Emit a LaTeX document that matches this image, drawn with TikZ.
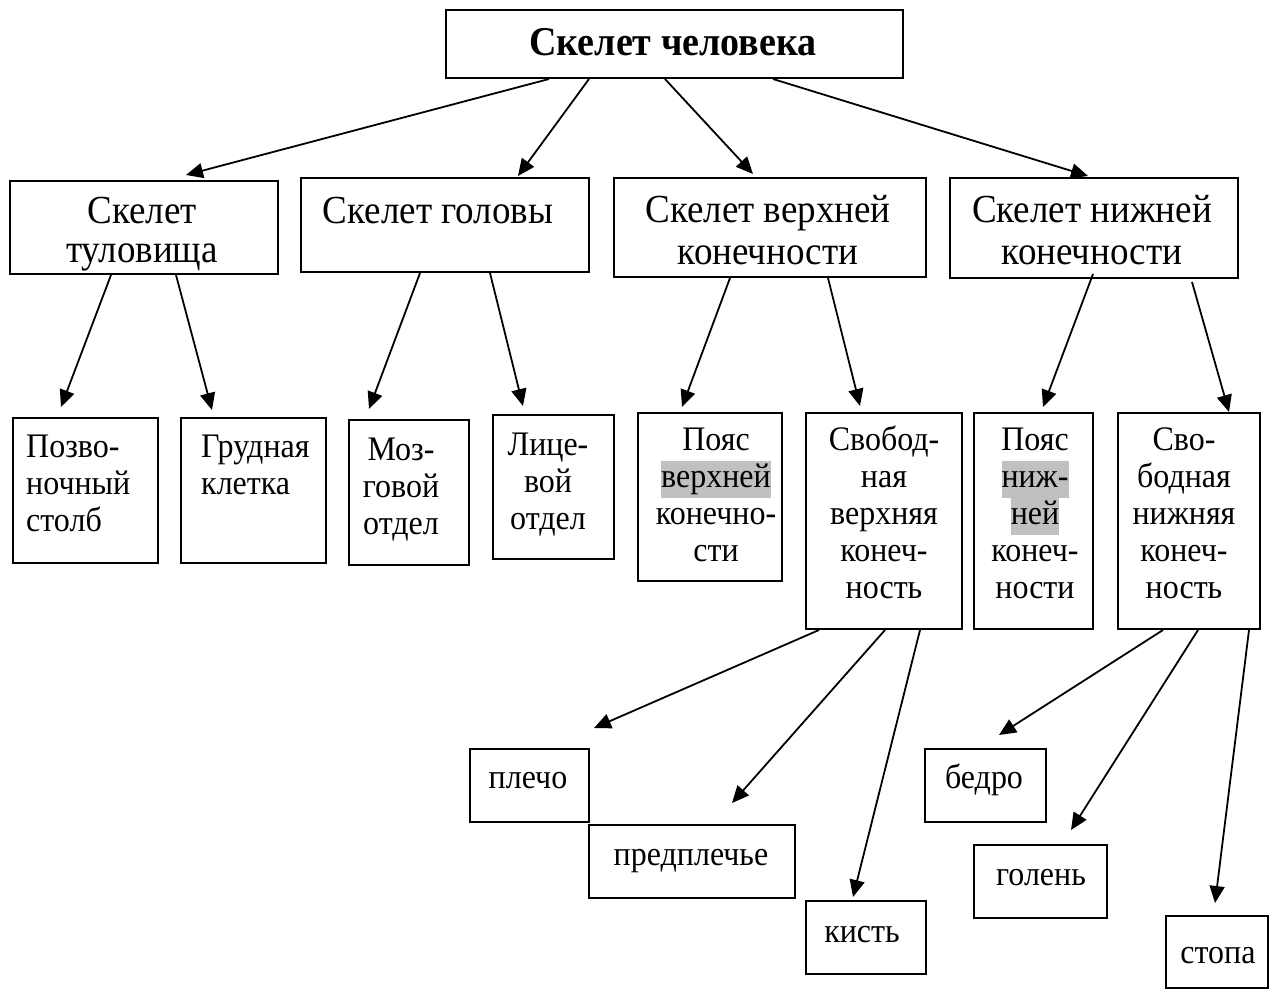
\documentclass[tikz,border=0pt]{standalone}
\usepackage{fontspec}
\setmainfont{Liberation Serif}[FakeStretch=0.93]
\usetikzlibrary{arrows.meta,calc}
\definecolor{hlgray}{RGB}{192,192,192}
\newcommand\mlc[1]{\begin{tabular}[t]{@{}c@{}}#1\end{tabular}}
\newcommand\mll[1]{\begin{tabular}[t]{@{}l@{}}#1\end{tabular}}
\newcommand\hlw[1]{{\setlength{\fboxsep}{0pt}\colorbox{hlgray}{\strut #1}}}
\newcommand\fTitle{\fontsize{40.9}{44}\selectfont\bfseries}
\newcommand\fTwo{\fontsize{39.8}{42}\selectfont}
\newcommand\fThree{\fontsize{34.4}{37}\selectfont}
\tikzset{
  box/.style={draw, line width=2pt, inner sep=0pt, anchor=north west},
  arr/.style={line width=1.8pt, -{Triangle[length=17pt,width=15pt]}},
  txt/.style={inner sep=0pt, anchor=base},
  txtl/.style={inner sep=0pt, anchor=base west}
}
\begin{document}
\begin{tikzpicture}[x=1pt,y=-1pt]
\fill[white] (0,0) rectangle (1271,989);
\useasboundingbox (0,0) rectangle (1271,989);
% boxes
\node[box, minimum width=457pt, minimum height=68pt] (T) at (445,9) {};
\node[box, minimum width=268pt, minimum height=93pt] (A) at (9,180) {};
\node[box, minimum width=288pt, minimum height=94pt] (B) at (300,177) {};
\node[box, minimum width=312pt, minimum height=99pt] (C) at (613,177) {};
\node[box, minimum width=288pt, minimum height=100pt] (D) at (949,177) {};
\node[box, minimum width=145pt, minimum height=145pt] (P1) at (12,417) {};
\node[box, minimum width=145pt, minimum height=145pt] (P2) at (180,417) {};
\node[box, minimum width=120pt, minimum height=145pt] (P3) at (348,419) {};
\node[box, minimum width=121pt, minimum height=144pt] (P4) at (492,414) {};
\node[box, minimum width=144pt, minimum height=168pt] (P5) at (637,412) {};
\node[box, minimum width=156pt, minimum height=216pt] (P6) at (805,412) {};
\node[box, minimum width=119pt, minimum height=216pt] (P7) at (973,412) {};
\node[box, minimum width=142pt, minimum height=216pt] (P8) at (1117,412) {};
\node[box, minimum width=119pt, minimum height=73pt] (Q1) at (469,748) {};
\node[box, minimum width=206pt, minimum height=73pt] (Q2) at (588,824) {};
\node[box, minimum width=120pt, minimum height=73pt] (Q3) at (805,900) {};
\node[box, minimum width=121pt, minimum height=73pt] (Q4) at (924,748) {};
\node[box, minimum width=133pt, minimum height=73pt] (Q5) at (973,844) {};
\node[box, minimum width=102pt, minimum height=72pt] (Q6) at (1165,915) {};
% texts
\node[txt] (tT) at (673,55) {\fTitle Скелет человека};
\node[txt] (tA) at (142,223) {\fontsize{39.8}{39}\selectfont\mlc{Скелет\\туловища}};
\node[txt] (tB) at (438,223) {\fTwo Скелет головы};
\node[txt] (tC) at (768,222) {\fTwo\mlc{Скелет верхней\\конечности}};
\node[txt] (tD) at (1092,222) {\fTwo\mlc{Скелет нижней\\конечности}};
\node[txtl] (tP1) at (26,457) {\fThree\mll{Позво-\\ночный\\столб}};
\node[txtl] (tP2) at (201,457) {\fThree\mll{Грудная\\клетка}};
\node[txt] (tP3) at (401,460) {\fThree\mlc{Моз-\\говой\\отдел}};
\node[txt] (tP4) at (548,455) {\fThree\mlc{Лице-\\вой\\отдел}};
\node[txt] (tP5) at (716,450) {\fThree\mlc{Пояс\\\hlw{верхней}\\конечно-\\сти}};
\node[txt] (tP6) at (884,450) {\fThree\mlc{Свобод-\\ная\\верхняя\\конеч-\\ность}};
\node[txt] (tP7) at (1035,450) {\fThree\mlc{Пояс\\\hlw{ниж-}\\\hlw{ней}\\конеч-\\ности}};
\node[txt] (tP8) at (1184,450) {\fThree\mlc{Сво-\\бодная\\нижняя\\конеч-\\ность}};
\node[txt] (tQ1) at (528,788) {\fThree плечо};
\node[txt] (tQ2) at (691,865) {\fThree предплечье};
\node[txt] (tQ3) at (862,942) {\fThree кисть};
\node[txt] (tQ4) at (984,788) {\fThree бедро};
\node[txt] (tQ5) at (1041,885) {\fThree голень};
\node[txt] (tQ6) at (1218,963) {\fThree стопа};
% arrows
\draw[arr] ($(T.south west)+(104,0)$) -- ($(A.north west)+(177,-5)$);
\draw[arr] ($(T.south west)+(144,0)$) -- ($(B.north west)+(218,-1)$);
\draw[arr] ($(T.south west)+(220,0)$) -- ($(C.north west)+(140,-3)$);
\draw[arr] ($(T.south west)+(328,0)$) -- ($(D.north west)+(139,-1)$);
\draw[arr] ($(A.south west)+(102,0)$) -- ($(P1.north west)+(49,-10)$);
\draw[arr] ($(A.south west)+(167,0)$) -- ($(P2.north west)+(32,-7)$);
\draw[arr] ($(B.south west)+(120,0)$) -- ($(P3.north west)+(21,-10)$);
\draw[arr] ($(B.south west)+(190,0)$) -- ($(P4.north west)+(31,-8)$);
\draw[arr] ($(C.south west)+(117,0)$) -- ($(P5.north west)+(45,-5)$);
\draw[arr] ($(C.south west)+(215,0)$) -- ($(P6.north west)+(55,-6)$);
\draw[arr] ($(D.south west)+(144,-5)$) -- ($(P7.north west)+(70,-5)$);
\draw[arr] ($(D.south west)+(243,3)$) -- ($(P8.north west)+(112,0)$);
\draw[arr] ($(P6.south west)+(14,0)$) -- ($(Q1.north west)+(125,-20)$);
\draw[arr] ($(P6.south west)+(80,0)$) -- ($(Q2.north west)+(144,-21)$);
\draw[arr] ($(P6.south west)+(115,0)$) -- ($(Q3.north west)+(48,-3)$);
\draw[arr] ($(P8.south west)+(46,0)$) -- ($(Q4.north west)+(75,-13)$);
\draw[arr] ($(P8.south west)+(81,0)$) -- ($(Q5.north west)+(98,-14)$);
\draw[arr] ($(P8.south west)+(132,0)$) -- ($(Q6.north west)+(50,-12)$);
\end{tikzpicture}
\end{document}
